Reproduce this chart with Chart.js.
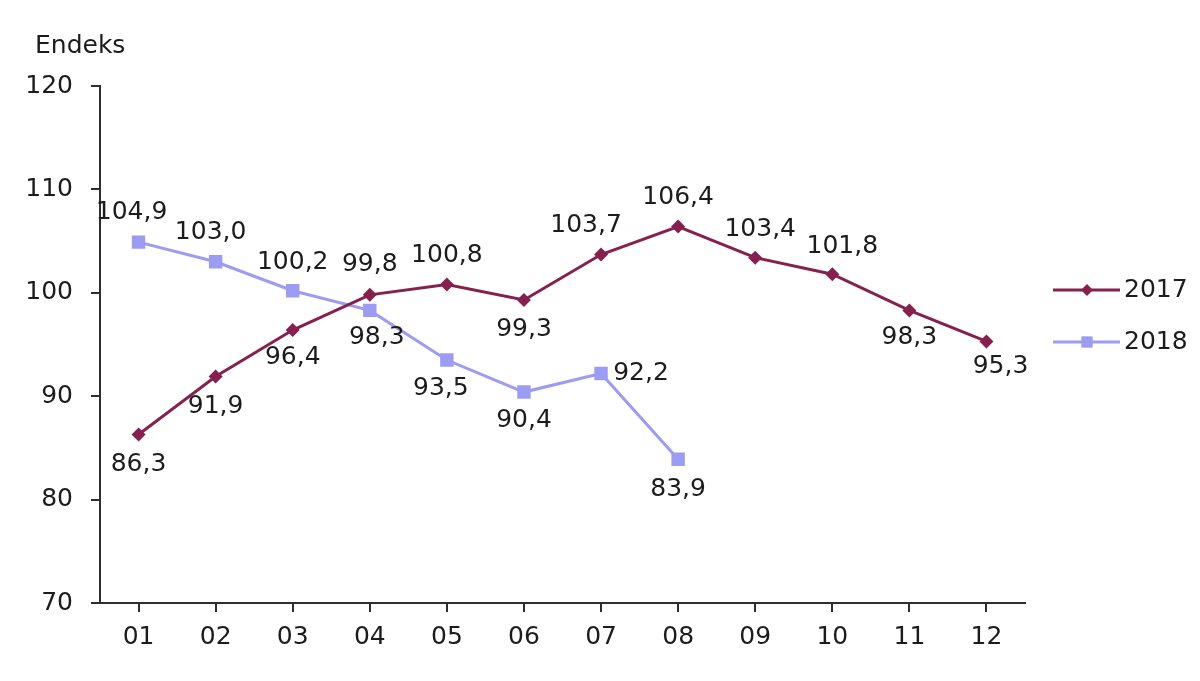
<!DOCTYPE html>
<html>
<head>
<meta charset="utf-8">
<script src="https://cdn.jsdelivr.net/npm/chart.js@4/dist/chart.umd.min.js"></script>
<style>
	html, body { margin: 0; padding: 0; background: #fff; }
	#wrap { width: 1200px; height: 681px; }
</style>
</head>
<body>
<div id="wrap"><canvas id="chart" width="1200" height="681"></canvas></div>
<script>
var months = ['01', '02', '03', '04', '05', '06', '07', '08', '09', '10', '11', '12'];
var values2017 = [86.3, 91.9, 96.4, 99.8, 100.8, 99.3, 103.7, 106.4, 103.4, 101.8, 98.3, 95.3];
var values2018 = [104.9, 103.0, 100.2, 98.3, 93.5, 90.4, 92.2, 83.9];
var yTicks = [70, 80, 90, 100, 110, 120];

var FONT = 'DejaVu Sans';
var TEXT = '#1c1c1c';
var AXIS = '#2e2e2e';
var C2017 = '#85204f';
var C2018 = '#9c9cf2';

// where each value label sits relative to its point
var labelOffsets = [
	[[0, 30], [0, 30], [0, 27], [0, -30], [0, -29], [0, 29], [-15, -29], [0, -29], [5, -28], [10, -28], [0, 27], [14, 25]],
	[[-7, -30], [-5, -29], [0, -28], [7, 27], [-6, 28], [0, 28], [40, 0], [0, 30]]
];

function fmt(v) {
	return v.toFixed(1).replace('.', ',');
}

var valueLabels = {
	id: 'valueLabels',
	afterDatasetsDraw: function(chart) {
		var ctx = chart.ctx;
		ctx.save();
		ctx.font = '25px "' + FONT + '"';
		ctx.fillStyle = TEXT;
		ctx.textAlign = 'center';
		ctx.textBaseline = 'middle';
		chart.data.datasets.forEach(function(ds, i) {
			var meta = chart.getDatasetMeta(i);
			meta.data.forEach(function(pt, j) {
				var off = labelOffsets[i][j];
				ctx.fillText(fmt(ds.data[j]), pt.x + off[0], pt.y + off[1]);
			});
		});
		ctx.restore();
	}
};

// y axis title and the legend at the right
var extras = {
	id: 'extras',
	afterDraw: function(chart) {
		var ctx = chart.ctx;
		ctx.save();
		ctx.font = '25px "' + FONT + '"';
		ctx.fillStyle = TEXT;
		ctx.textBaseline = 'middle';
		ctx.textAlign = 'left';
		ctx.fillText('Endeks', 35, 46);

		var items = [
			{ label: '2017', color: C2017, style: 'rectRot', y: 290, r: 6 },
			{ label: '2018', color: C2018, style: 'rect', y: 342, r: 8 }
		];
		items.forEach(function(it) {
			ctx.strokeStyle = it.color;
			ctx.lineWidth = 3;
			ctx.beginPath();
			ctx.moveTo(1053, it.y);
			ctx.lineTo(1120, it.y);
			ctx.stroke();
			ctx.fillStyle = it.color;
			Chart.helpers.drawPoint(ctx, { pointStyle: it.style, radius: it.r, borderWidth: 0 }, 1087, it.y);
			ctx.fillStyle = TEXT;
			ctx.fillText(it.label, 1124, it.y);
		});
		ctx.restore();
	}
};

new Chart(document.getElementById('chart').getContext('2d'), {
	type: 'line',
	data: {
		labels: months,
		datasets: [{
			label: '2017',
			data: values2017,
			borderColor: C2017,
			backgroundColor: C2017,
			borderWidth: 3,
			pointStyle: 'rectRot',
			pointRadius: 7,
			pointBorderWidth: 0,
			tension: 0
		}, {
			label: '2018',
			data: values2018,
			borderColor: C2018,
			backgroundColor: C2018,
			borderWidth: 3,
			pointStyle: 'rect',
			pointRadius: 9.5,
			pointBorderWidth: 0,
			tension: 0
		}]
	},
	options: {
		responsive: false,
		animation: false,
		layout: { padding: { left: 0, right: 175, top: 86, bottom: 0 } },
		plugins: {
			legend: { display: false },
			tooltip: { enabled: false }
		},
		scales: {
			x: {
				offset: true,
				afterFit: function(s) { s.height = 78; },
				border: { display: true, color: AXIS, width: 2 },
				grid: { display: true, drawOnChartArea: false, drawTicks: true, tickLength: 9, color: AXIS, lineWidth: 2 },
				ticks: { color: TEXT, padding: 10, font: { family: FONT, size: 25 } }
			},
			y: {
				min: yTicks[0],
				max: yTicks[yTicks.length - 1],
				afterFit: function(s) { s.width = 100; },
				afterBuildTicks: function(s) { s.ticks = yTicks.map(function(v) { return { value: v }; }); },
				border: { display: true, color: AXIS, width: 2 },
				grid: { display: true, drawOnChartArea: false, drawTicks: true, tickLength: 9, color: AXIS, lineWidth: 2 },
				ticks: { color: TEXT, padding: 18, font: { family: FONT, size: 25 } }
			}
		}
	},
	plugins: [valueLabels, extras]
});
</script>
</body>
</html>
